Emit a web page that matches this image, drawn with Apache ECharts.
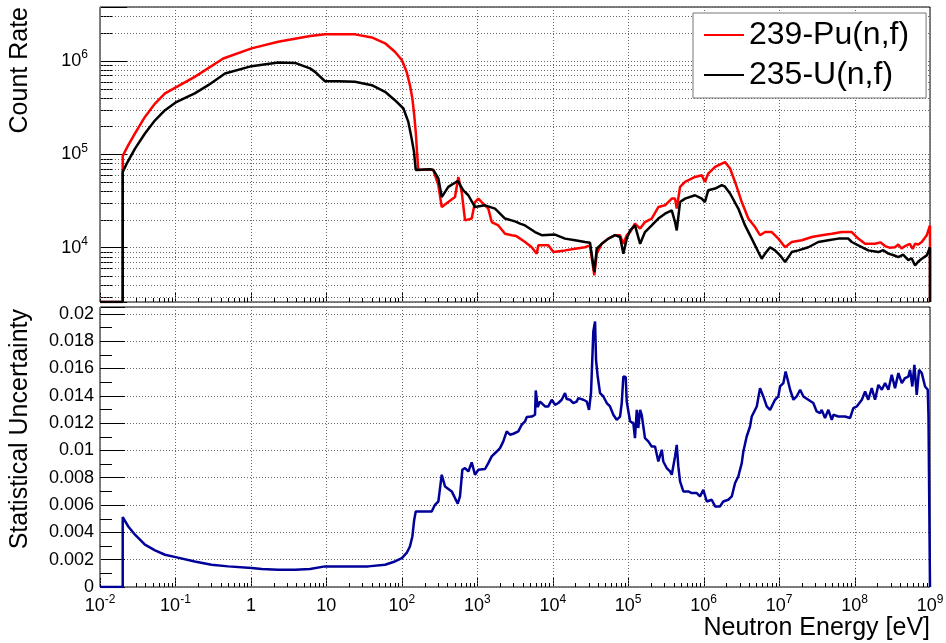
<!DOCTYPE html>
<html><head><meta charset="utf-8">
<script src="https://cdn.jsdelivr.net/npm/echarts@6/dist/echarts.min.js"></script>
<style>html,body{margin:0;padding:0;background:#fff}#c{width:946px;height:643px}</style>
</head><body><div id="c"></div>
<script>
// ---------------- data ----------------
const seriesNames = ['239-Pu(n,f)', '235-U(n,f)'];

const energyPu = [
  0.01, 0.02, 0.02, 0.0237, 0.0291, 0.0394, 0.0536, 0.0727, 0.104, 0.18, 0.43,
  1.02, 2.3, 6.1, 9.6, 24, 40, 60, 81, 100, 116, 128, 138, 146, 153, 159, 165,
  236, 261, 305, 338, 413, 507, 561, 622, 688, 844, 933, 1033, 1145, 1400, 1554, 1901,
  2333, 2862, 3300, 4296, 5272, 6138, 6442, 8750, 10190, 14550, 19770, 26800, 31200,
  33500, 35600, 38300, 44600, 54600, 67000, 78000, 86300, 95700,
  1.06e5, 1.23e5, 1.44e5, 1.67e5, 2.05e5, 2.51e5, 3.08e5, 3.78e5, 4.18e5, 4.40e5, 4.87e5,
  5.67e5, 7.69e5, 9.44e5, 1.04e6, 1.15e6, 1.42e6, 1.74e6, 1.92e6, 2.24e6, 2.61e6,
  3.20e6, 3.91e6, 4.80e6, 5.59e6, 6.52e6, 8.0e6, 9.77e6, 1.20e7, 1.47e7, 2.0e7,
  2.71e7, 3.67e7, 4.99e7, 6.76e7, 9.18e7, 1.12e8, 1.38e8, 1.87e8, 2.2e8, 2.54e8, 2.9e8,
  3.44e8, 3.8e8, 4.2e8, 4.67e8, 5.4e8, 5.9e8, 6.34e8, 7.0e8, 7.78e8, 9.06e8, 1e9, 1e9
];
const ratePu = [
  0, 0, 9.6e4, 1.25e5, 1.67e5, 2.51e5, 3.49e5, 4.48e5, 5.26e5, 6.74e5, 1.06e6,
  1.36e6, 1.60e6, 1.84e6, 1.93e6, 1.92e6, 1.78e6, 1.54e6, 1.25e6, 1.02e6, 7.6e5, 5.5e5, 3.95e5, 2.62e5, 1.73e5, 1.06e5, 6.8e4,
  6.9e4, 6.8e4, 4.66e4, 2.72e4, 3.08e4, 3.48e4, 5.71e4, 3.95e4, 1.96e4, 2.05e4, 3.08e4, 3.35e4, 3.08e4, 2.62e4, 1.88e4, 1.73e4,
  1.41e4, 1.36e4, 1.33e4, 1.15e4, 1.01e4, 8.6e3, 1.06e4, 1.06e4, 9.0e3, 9.35e3, 9.75e3, 1.01e4, 1.06e4,
  7.0e3, 5.05e3, 8.6e3, 1.10e4, 1.25e4, 1.36e4, 1.36e4, 1.10e4, 1.36e4,
  1.47e4, 1.81e4, 1.60e4, 1.88e4, 2.05e4, 2.72e4, 2.84e4, 3.35e4, 3.35e4, 2.62e4, 4.47e4,
  5.05e4, 5.71e4, 5.96e4, 5.05e4, 6.21e4, 7.31e4, 7.94e4, 8.26e4, 7.03e4, 5.05e4,
  3.08e4, 2.05e4, 1.66e4, 1.36e4, 1.47e4, 1.47e4, 1.25e4, 1.01e4, 1.15e4, 1.20e4,
  1.30e4, 1.36e4, 1.41e4, 1.47e4, 1.47e4, 1.25e4, 1.10e4, 1.10e4, 1.14e4, 1.04e4, 1.0e4,
  1.01e4, 1.08e4, 0.98e4, 1.04e4, 1.1e4, 0.97e4, 1.10e4, 1.08e4, 1.15e4, 1.36e4, 1.73e4, 0
];

const energyU = [
  0.01, 0.02, 0.02, 0.0226, 0.0291, 0.0394, 0.0536, 0.0727, 0.104, 0.18, 0.272, 0.454,
  1.02, 2.31, 3.84, 6.07, 7.08, 9.6, 14.4, 24, 40, 60, 81, 105, 122, 135, 145, 153,
  236, 261, 305, 338, 413, 551, 653, 761, 933, 1267, 1718, 2333, 3162, 3690, 4296, 5825, 7145,
  10730, 14550, 19770, 26800, 31200, 33500, 35600, 38300, 44600, 54600, 67000, 78000, 86300, 95700,
  1.06e5, 1.23e5, 1.44e5, 1.67e5, 2.05e5, 2.51e5, 3.08e5, 3.78e5, 4.18e5, 4.40e5, 4.87e5,
  5.67e5, 7.69e5, 9.44e5, 1.04e6, 1.15e6, 1.42e6, 1.74e6, 1.92e6, 2.24e6, 2.88e6, 3.54e6,
  4.34e6, 5.31e6, 5.89e6, 6.52e6, 7.59e6, 8.84e6, 1.03e7, 1.20e7, 1.33e7, 1.47e7, 1.80e7,
  2.44e7, 3.31e7, 4.50e7, 6.10e7, 8.28e7, 9.18e7, 1.12e8, 1.52e8, 2.07e8, 2.4e8, 2.81e8,
  3.3e8, 3.81e8, 4.4e8, 5.16e8, 5.7e8, 6.34e8, 7.0e8, 7.78e8, 9.06e8, 1e9, 1e9
];
const rateU = [
  0, 0, 6.45e4, 7.94e4, 1.15e5, 1.67e5, 2.31e5, 2.96e5, 3.64e5, 4.48e5, 5.49e5, 7.33e5,
  8.77e5, 9.6e5, 9.5e5, 8.3e5, 7.62e5, 6.05e5, 6.05e5, 5.96e5, 5.49e5, 4.66e5, 3.79e5, 3.09e5, 2.22e5, 1.47e5, 1.06e5, 6.8e4,
  6.9e4, 6.8e4, 5.5e4, 3.48e4, 4.47e4, 5.18e4, 4.11e4, 3.64e4, 2.72e4, 2.84e4, 2.62e4, 2.05e4, 1.91e4, 1.81e4, 1.73e4, 1.47e4, 1.36e4,
  1.38e4, 1.25e4, 1.20e4, 1.15e4, 1.13e4, 7.6e3, 5.47e3, 9.75e3, 1.10e4, 1.25e4, 1.36e4, 1.30e4, 8.6e3, 1.25e4,
  1.53e4, 1.73e4, 1.10e4, 1.47e4, 1.73e4, 2.05e4, 2.31e4, 2.51e4, 1.88e4, 1.53e4, 3.08e4,
  3.35e4, 3.64e4, 3.35e4, 3.08e4, 4.11e4, 4.29e4, 4.66e4, 4.5e4, 3.8e4, 2.62e4, 1.73e4,
  1.25e4, 8.97e3, 7.62e3, 8.63e3, 1.01e4, 9.35e3, 8.27e3, 7.02e3, 7.93e3, 8.97e3, 9.35e3,
  1.01e4, 1.15e4, 1.20e4, 1.25e4, 1.25e4, 1.15e4, 1.06e4, 9.35e3, 8.97e3, 9.4e3, 8.63e3,
  8.3e3, 7.93e3, 8.4e3, 7.36e3, 7.7e3, 6.45e3, 7.1e3, 7.62e3, 8.27e3, 1.01e4, 0
];

const energyUnc = [
  0.01, 0.02, 0.02, 0.0237, 0.0291, 0.0394, 0.0536, 0.0727, 0.104, 0.18, 0.30, 0.50,
  1.02, 1.39, 2.31, 3.84, 6.07, 9.6, 36, 60, 81, 100, 116, 128, 138, 146, 153,
  249, 275, 305, 321, 338, 374, 459, 551, 590, 634, 688, 761, 844, 933, 1033, 1267, 1400, 1554,
  1811, 2003, 2213, 2455, 2716, 3006, 3500, 3880, 4296, 4520, 5272, 5825, 5957, 6327, 6788,
  7908, 8750, 9700, 10730, 11860, 13150, 14550, 15340, 16950, 18750, 20800, 21830, 25470,
  28250, 30270, 32200, 34520, 36390, 37500, 39450, 42360, 46880, 51990, 57440, 63550, 70470,
  78000, 82200, 86300, 92700, 95700, 1.06e5, 1.17e5, 1.23e5, 1.30e5, 1.36e5, 1.44e5, 1.51e5,
  1.67e5, 1.85e5, 2.05e5, 2.27e5, 2.51e5, 2.79e5, 2.92e5, 3.24e5, 3.59e5, 3.78e5, 4.18e5,
  4.40e5, 4.62e5, 4.87e5, 5.38e5, 6.27e5, 6.95e5, 8.11e5, 8.96e5, 9.9e5, 1.10e6, 1.28e6,
  1.42e6, 1.65e6, 1.82e6, 2.12e6, 2.36e6, 2.61e6, 2.88e6, 3.20e6, 3.36e6, 3.72e6, 4.12e6,
  4.34e6, 5.06e6, 5.59e6, 6.18e6, 6.86e6, 7.59e6, 8.84e6, 9.77e6, 1.03e7, 1.14e7, 1.22e7,
  1.30e7, 1.40e7, 1.55e7, 1.71e7, 1.90e7, 2.10e7, 2.44e7, 2.84e7, 3.15e7, 3.49e7, 3.67e7,
  4.06e7, 4.50e7, 4.99e7, 5.24e7, 6.10e7, 7.48e7, 8.71e7, 9.64e7, 1.07e8, 1.25e8, 1.38e8,
  1.52e8, 1.69e8, 1.87e8, 2.07e8, 2.30e8, 2.54e8, 2.81e8, 3.11e8, 3.44e8, 3.81e8, 4.23e8,
  4.67e8, 5.16e8, 5.44e8, 5.83e8, 6.21e8, 6.67e8, 7.16e8, 7.78e8, 8.60e8, 9.34e8, 9.55e8, 1e9, 1e9
];
const uncertainty = [
  0, 0, 0.00512, 0.00443, 0.00383, 0.0031, 0.00268, 0.00236, 0.00217, 0.00187, 0.00163, 0.00151,
  0.00139, 0.00132, 0.00127, 0.00127, 0.00132, 0.00151, 0.00151, 0.00163, 0.00187, 0.00212, 0.00249, 0.00297, 0.0037, 0.00493, 0.00553,
  0.00553, 0.00602, 0.00626, 0.00724, 0.00822, 0.00736, 0.0070, 0.0061, 0.00663, 0.00858, 0.00871, 0.00846, 0.00912, 0.00822, 0.00858, 0.00864, 0.00907, 0.00956,
  0.00992, 0.01017, 0.01066, 0.01139, 0.01115, 0.01122, 0.01139, 0.01188, 0.01212, 0.01244, 0.01248, 0.01261, 0.01439, 0.01317, 0.01358,
  0.01322, 0.01322, 0.01371, 0.01334, 0.01347, 0.01371, 0.0142, 0.01376, 0.01371, 0.01347, 0.01358, 0.01383, 0.01371,
  0.01358, 0.01297, 0.01424, 0.0187, 0.01944, 0.01663, 0.01541, 0.0142, 0.01395, 0.01347, 0.01322, 0.01261, 0.01224,
  0.01248, 0.01347, 0.01541, 0.01537, 0.01358, 0.01212, 0.012, 0.0109, 0.01297, 0.01164, 0.01297, 0.01261,
  0.0109, 0.01066, 0.01029, 0.01029, 0.00919, 0.01005, 0.00919, 0.00871, 0.00846, 0.00822, 0.00956,
  0.01041, 0.00883, 0.00773, 0.0070, 0.0070, 0.00688, 0.00688, 0.00663, 0.00712, 0.00626, 0.00639,
  0.0059, 0.0059, 0.00626, 0.00639, 0.00663, 0.00761, 0.00809, 0.00907, 0.00992, 0.01102, 0.01175,
  0.01248, 0.01322, 0.01456, 0.01395, 0.01322, 0.01297, 0.01371, 0.01395, 0.01468, 0.01493, 0.01578,
  0.01517, 0.01444, 0.01371, 0.01395, 0.01444, 0.01395, 0.01371, 0.01347, 0.01285, 0.01273, 0.01297,
  0.01237, 0.01297, 0.01224, 0.01261, 0.01248, 0.01248, 0.01237, 0.0131, 0.01322, 0.01371, 0.01431,
  0.01371, 0.01456, 0.01371, 0.0148, 0.01444, 0.01493, 0.01444, 0.01554, 0.01456, 0.01566, 0.01493,
  0.0153, 0.01541, 0.0159, 0.01468, 0.01627, 0.01407, 0.0159, 0.01566, 0.01468, 0.01444, 0.01248, 0.01248, 0
];

// axis ranges / ticks
const X_MIN = 1e-2, X_MAX = 1e9;
const RATE_MIN = 2620, RATE_MAX = 3.77e6;
const UNC_MIN = 0, UNC_MAX = 0.0205, UNC_STEP = 0.002;
const decadeExponents = [-2, -1, 0, 1, 2, 3, 4, 5, 6, 7, 8, 9];
const rateExponents = [3, 4, 5, 6];
const minorMultipliers = [2, 3, 4, 5, 6, 7, 8, 9];

// ---------------- chart ----------------
const FONT = 'Liberation Sans, Arial, Helvetica, sans-serif';
const GRID_LINE = { color: '#666', width: 1, type: [1, 2] };

function pair(xs, ys, zeroTo) {
  return xs.map((x, i) => [x, ys[i] > 0 ? ys[i] : zeroTo]);
}

function powLabel(v) {
  const l = Math.log10(v);
  const e = Math.round(l);
  if (Math.abs(l - e) > 1e-6) return '';
  if (e === 0) return '{b|1}';
  if (e === 1) return '{b|10}';
  return '{b|10}{s|' + e + '}';
}
const powRich = {
  b: { fontSize: 18, lineHeight: 24, fontFamily: FONT, color: '#000', fill: '#000' },
  s: { fontSize: 12, lineHeight: 12, verticalAlign: 'top', fontFamily: FONT, color: '#000', fill: '#000' }
};

// kinds: 0 minor x tick, 1 minor y tick, 2 minor y tick + grid line, 3 major x tick + grid (+ label)
const xTicksTop = [], xTicksBottom = [], yMinorTop = [], yMinorBottom = [];
decadeExponents.forEach(e => {
  const d = Math.pow(10, e);
  xTicksTop.push([d, RATE_MIN, 3, 9, 0]);
  xTicksBottom.push([d, UNC_MIN, 3, 9, 1]);
  if (e < 9) minorMultipliers.forEach(m => {
    xTicksTop.push([m * d, RATE_MIN, 0, 4, 0]);
    xTicksBottom.push([m * d, UNC_MIN, 0, 4, 0]);
  });
});
rateExponents.forEach(e => minorMultipliers.forEach(m => {
  const v = m * Math.pow(10, e);
  if (v > RATE_MIN && v < RATE_MAX) yMinorTop.push([X_MIN, v, 2, 13, 0]);
}));
for (let k = 0; k < 10; k++) yMinorBottom.push([X_MIN, UNC_STEP * k + UNC_STEP / 2, 1, 12, 0]);

function tickSeries(idx, items) {
  return {
    type: 'custom', xAxisIndex: idx, yAxisIndex: idx, silent: true, z: 1, clip: false,
    encode: { x: 0, y: 1 },
    data: items,
    renderItem: function (params, api) {
      const cs = params.coordSys;
      const kind = api.value(2);
      const len = api.value(3);
      const p = api.coord([api.value(0), api.value(1)]);
      const st = { stroke: '#000', lineWidth: 1 };
      const bottom = cs.y + cs.height;
      if (kind === 0 || kind === 3) {
        const x = Math.round(p[0]) + 0.5;
        const children = [{ type: 'line', shape: { x1: x, y1: bottom, x2: x, y2: bottom - len }, style: st }];
        if (kind === 3) {
          children.push({ type: 'line', shape: { x1: x, y1: cs.y, x2: x, y2: bottom },
            style: { stroke: GRID_LINE.color, lineWidth: 1, lineDash: [1, 2] } });
          if (api.value(4) === 1) {
            children.push({ type: 'text', x: p[0], y: bottom + 7,
              style: { text: powLabel(api.value(0)), rich: powRich, align: 'center', verticalAlign: 'top',
                       fill: '#000', font: '18px ' + FONT } });
          }
        }
        return { type: 'group', children: children };
      }
      const y = Math.round(p[1]) + 0.5;
      const children = [{ type: 'line', shape: { x1: cs.x, y1: y, x2: cs.x + len, y2: y }, style: st }];
      if (kind === 2) children.push({ type: 'line', shape: { x1: cs.x, y1: y, x2: cs.x + cs.width, y2: y },
        style: { stroke: GRID_LINE.color, lineWidth: 1, lineDash: [1, 2] } });
      return { type: 'group', children: children };
    }
  };
}

const xAxisBase = {
  type: 'log', logBase: 10, min: X_MIN, max: X_MAX,
  axisLine: { show: false },
  axisTick: { show: false },
  axisLabel: { show: false },
  splitLine: { show: false },
  minorTick: { show: false }
};

const chart = echarts.init(document.getElementById('c'), null, { renderer: 'canvas' });
chart.setOption({
  animation: false,
  backgroundColor: '#fff',
  textStyle: { fontFamily: FONT },
  grid: [
    { left: 100, top: 7, width: 830, height: 295, show: true, borderColor: '#000', borderWidth: 1, backgroundColor: 'transparent' },
    { left: 100, top: 307, width: 830, height: 280, show: true, borderColor: '#000', borderWidth: 1, backgroundColor: 'transparent' }
  ],
  xAxis: [
    Object.assign({}, xAxisBase, { gridIndex: 0 }),
    Object.assign({}, xAxisBase, { gridIndex: 1 })
  ],
  yAxis: [
    { type: 'log', logBase: 10, gridIndex: 0, min: RATE_MIN, max: RATE_MAX, splitNumber: 3,
      axisLine: { show: false },
      axisTick: { show: true, inside: true, length: 27, lineStyle: { color: '#000', width: 1 } },
      splitLine: { show: true, lineStyle: GRID_LINE },
      axisLabel: { show: true, margin: 12, formatter: powLabel, rich: powRich } },
    { type: 'value', gridIndex: 1, min: UNC_MIN, max: UNC_MAX, interval: UNC_STEP,
      axisLine: { show: false },
      axisTick: { show: true, inside: true, length: 25, lineStyle: { color: '#000', width: 1 } },
      splitLine: { show: true, lineStyle: GRID_LINE },
      axisLabel: { show: true, margin: 6, fontSize: 18, color: '#000', fontFamily: FONT,
        formatter: function (v) {
          const r = v / UNC_STEP;
          if (Math.abs(r - Math.round(r)) > 1e-6) return '';
          return String(parseFloat(v.toFixed(4)));
        } } }
  ],
  legend: {
    data: seriesNames, orient: 'vertical', left: 693, top: 13,
    padding: [4, 17, 5, 11], itemGap: 4, itemWidth: 40, itemHeight: 2, icon: 'rect',
    backgroundColor: '#fff', borderColor: '#777', borderWidth: 1, borderRadius: 0,
    selectedMode: false,
    textStyle: { fontSize: 32, lineHeight: 36, color: '#000', fontFamily: FONT }
  },
  graphic: [
    { type: 'text', x: 20, y: 7, rotation: Math.PI / 2,
      style: { text: 'Count Rate', font: '25px ' + FONT, fill: '#000', align: 'right', verticalAlign: 'middle',
               textAlign: 'right', textVerticalAlign: 'middle' } },
    { type: 'text', x: 20, y: 309, rotation: Math.PI / 2,
      style: { text: 'Statistical Uncertainty', font: '25px ' + FONT, fill: '#000', align: 'right', verticalAlign: 'middle',
               textAlign: 'right', textVerticalAlign: 'middle' } },
    { type: 'text', x: 930, y: 628,
      style: { text: 'Neutron Energy [eV]', font: '25px ' + FONT, fill: '#000', align: 'right', verticalAlign: 'middle',
               textAlign: 'right', textVerticalAlign: 'middle' } }
  ],
  series: [
    tickSeries(0, xTicksTop.concat(yMinorTop)),
    tickSeries(1, xTicksBottom.concat(yMinorBottom)),
    { name: seriesNames[0], type: 'line', xAxisIndex: 0, yAxisIndex: 0, z: 3,
      data: pair(energyPu, ratePu, RATE_MIN), symbol: 'none', showSymbol: false, clip: true,
      color: '#ff0000', itemStyle: { color: '#ff0000' }, lineStyle: { color: '#ff0000', width: 2.5 } },
    { name: seriesNames[1], type: 'line', xAxisIndex: 0, yAxisIndex: 0, z: 4,
      data: pair(energyU, rateU, RATE_MIN), symbol: 'none', showSymbol: false, clip: true,
      color: '#000000', itemStyle: { color: '#000000' }, lineStyle: { color: '#000000', width: 2.5 } },
    { name: 'Statistical Uncertainty', type: 'line', xAxisIndex: 1, yAxisIndex: 1, z: 3,
      data: pair(energyUnc, uncertainty, 0), symbol: 'none', showSymbol: false, clip: true,
      color: '#000099', itemStyle: { color: '#000099' }, lineStyle: { color: '#000099', width: 2.5 } }
  ]
});
</script>
</body></html>
